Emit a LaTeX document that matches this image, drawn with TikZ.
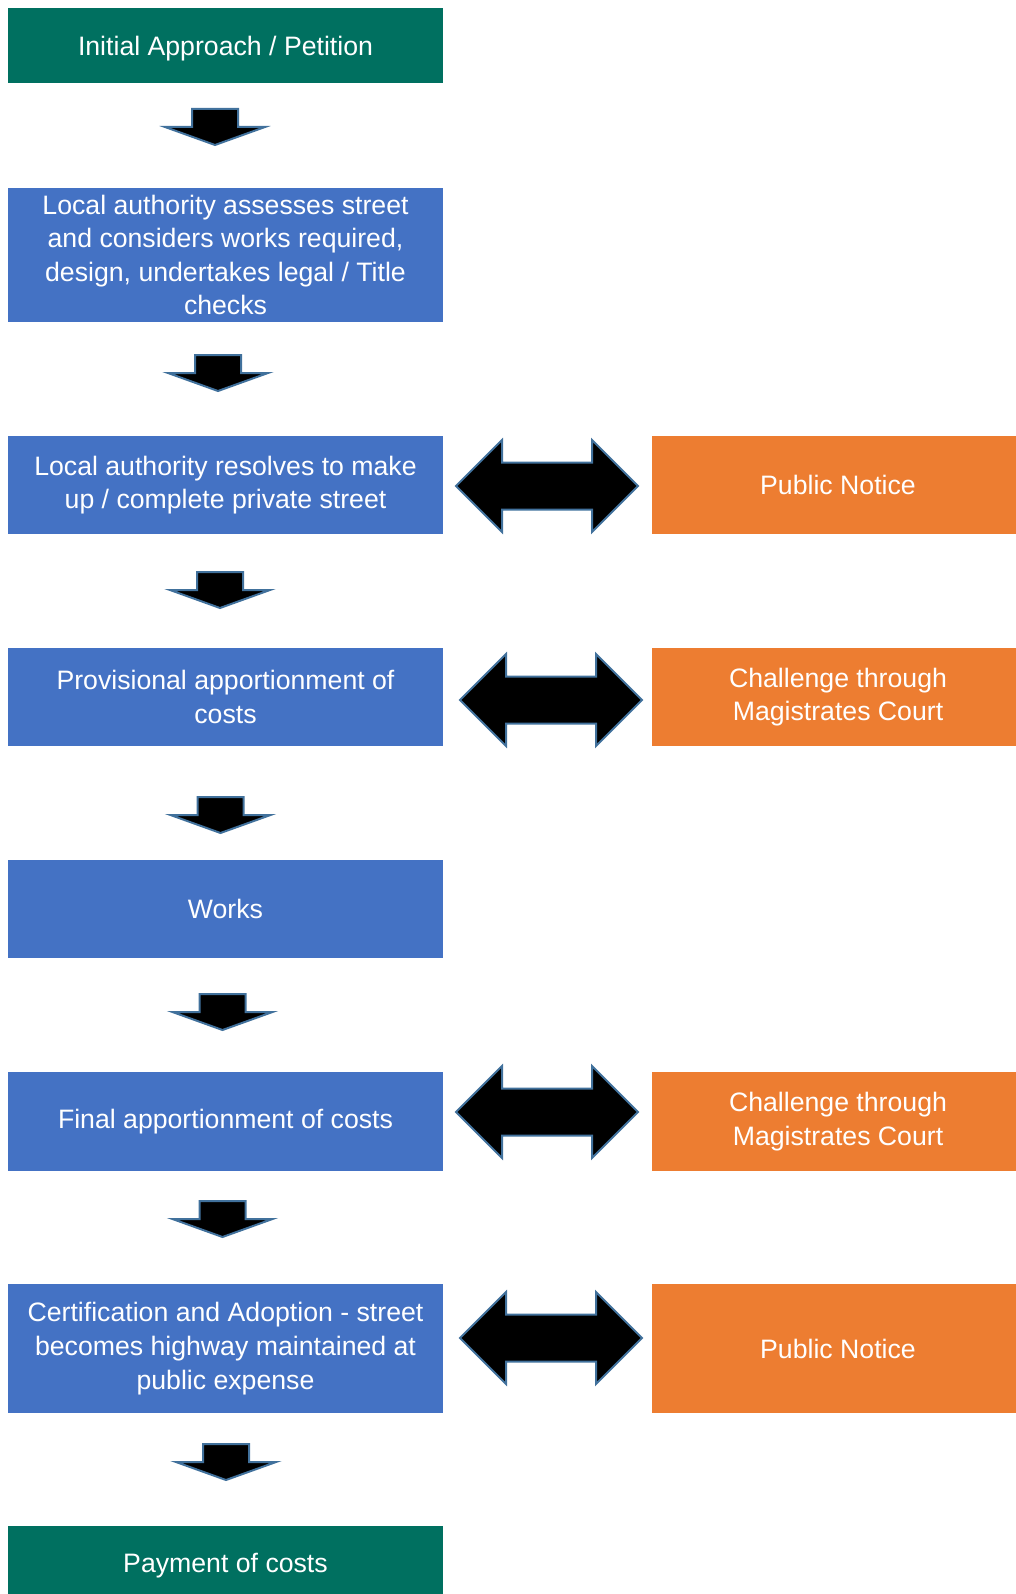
\documentclass[tikz,border=0pt]{standalone}
\usepackage{fontspec}
\setmainfont{Liberation Sans}
\definecolor{stagegreen}{RGB}{0,112,96}
\definecolor{stageblue}{RGB}{68,114,196}
\definecolor{stageorange}{RGB}{237,125,49}
\definecolor{arrowedge}{RGB}{65,113,156}

\tikzset{
  blockarrow/.style={draw=arrowedge, line width=1.5pt, fill=black, line join=miter},
  downblock/.pic={\draw[blockarrow] (-23,18) -- (23,18) -- (23,0) -- (50,0) -- (0,-18) -- (-50,0) -- (-23,0) -- cycle;},
  twoblock/.pic={\draw[blockarrow] (-91,0) -- (-45,-46) -- (-45,-23.5) -- (45,-23.5) -- (45,-46) -- (91,0) -- (45,46) -- (45,23.5) -- (-45,23.5) -- (-45,46) -- cycle;}
}

\begin{document}
\begin{tikzpicture}[x=0.75pt,y=0.75pt,yscale=-1,xscale=1,
  stagebox/.style={fill=stageblue, text=white, align=center, inner sep=0pt,
    minimum width=326.25pt, font=\fontsize{20}{25.2}\selectfont},
  endbox/.style={stagebox, fill=stagegreen, text depth=0pt},
  sidebox/.style={stagebox, fill=stageorange, minimum width=279pt}]
  \useasboundingbox (0,0) rectangle (1016,1594);

  % Left column
  \node [endbox, minimum height=56.25pt] (petition) at (225.5,45.5) {Initial Approach / Petition};
  \node [stagebox, minimum height=100.5pt] (assess) at (225.5,255) {Local authority assesses street\\and considers works required,\\design, undertakes legal / Title\\checks};
  \node [stagebox, minimum height=73.5pt] (resolve) at (225.5,485) {Local authority resolves to make\\up / complete private street};
  \node [stagebox, minimum height=73.5pt] (provisional) at (225.5,697) {Provisional apportionment of\\costs};
  \node [stagebox, minimum height=73.5pt] (works) at (225.5,909) {Works};
  \node [stagebox, minimum height=74.25pt] (final) at (225.5,1121.5) {Final apportionment of costs};
  \node [stagebox, minimum height=96.75pt] (adoption) at (225.5,1348.5) {Certification and Adoption - street\\becomes highway maintained at\\public expense};
  \node [endbox, minimum height=55.5pt] (payment) at (225.5,1563) {Payment of costs};

  % Right column
  \node [sidebox, minimum height=73.5pt] (notice1) at (838,485) {Public Notice};
  \node [sidebox, minimum height=73.5pt] (court1) at (838,697) {Challenge through\\Magistrates Court};
  \node [sidebox, minimum height=74.25pt] (court2) at (838,1121.5) {Challenge through\\Magistrates Court};
  \node [sidebox, minimum height=96.75pt] (notice2) at (838,1348.5) {Public Notice};

  % Block arrows
  \pic at (215,127) {downblock};
  \pic at (218,373) {downblock};
  \pic at (220,590) {downblock};
  \pic at (220.5,815) {downblock};
  \pic at (222.5,1012) {downblock};
  \pic at (222.5,1219) {downblock};
  \pic at (226,1462) {downblock};

  \pic at (547,486) {twoblock};
  \pic at (551,700) {twoblock};
  \pic at (547,1112) {twoblock};
  \pic at (551,1338) {twoblock};
\end{tikzpicture}
\end{document}
